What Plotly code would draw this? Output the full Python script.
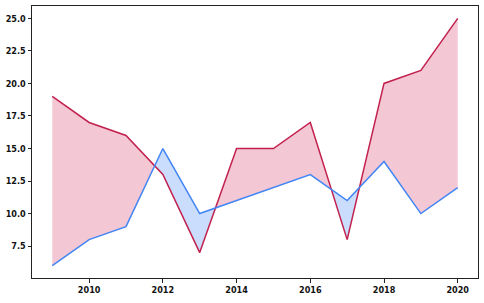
import plotly.graph_objects as go
import numpy as np

years = [2009, 2010, 2011, 2012, 2013, 2014, 2015, 2016, 2017, 2018, 2019, 2020]
series_a = [19, 17, 16, 13, 7, 15, 15, 17, 8, 20, 21, 25]
series_b = [6, 8, 9, 15, 10, 11, 12, 13, 11, 14, 10, 12]
y_ticks = [7.5, 10.0, 12.5, 15.0, 17.5, 20.0, 22.5, 25.0]
x_ticks = [2010, 2012, 2014, 2016, 2018, 2020]

RED = "#C2214E"
BLUE = "#4285F4"
RED_FILL = "rgba(210,40,90,0.26)"
BLUE_FILL = "rgba(66,133,244,0.28)"

fig = go.Figure()

x = np.array(years, float)
a = np.array(series_a, float)
b = np.array(series_b, float)
pts = [(x[0], a[0], b[0])]
for i in range(len(x) - 1):
    d0 = a[i] - b[i]
    d1 = a[i + 1] - b[i + 1]
    if d0 * d1 < 0:
        t = d0 / (d0 - d1)
        xc = x[i] + t * (x[i + 1] - x[i])
        yc = a[i] + t * (a[i + 1] - a[i])
        pts.append((xc, yc, yc))
    pts.append((x[i + 1], a[i + 1], b[i + 1]))

segs = []
cur = [pts[0]]
for p in pts[1:]:
    cur.append(p)
    if p[1] == p[2]:
        segs.append(cur)
        cur = [p]
if len(cur) > 1:
    segs.append(cur)

for seg in segs:
    xs = [p[0] for p in seg]
    ya = [p[1] for p in seg]
    yb = [p[2] for p in seg]
    diff = sum(pa - pb for pa, pb in zip(ya, yb))
    color = RED_FILL if diff > 0 else BLUE_FILL
    fig.add_trace(go.Scatter(
        x=xs + xs[::-1], y=ya + yb[::-1], fill="toself", fillcolor=color,
        mode="lines", line=dict(width=0), hoverinfo="skip", showlegend=False))

fig.add_trace(go.Scatter(x=years, y=series_a, mode="lines",
                         line=dict(color=RED, width=1.5), showlegend=False))
fig.add_trace(go.Scatter(x=years, y=series_b, mode="lines",
                         line=dict(color=BLUE, width=1.5), showlegend=False))

axis_common = dict(showgrid=False, zeroline=False, showline=True, linecolor="#222",
                   linewidth=1, mirror=True, ticks="outside", ticklen=3.5,
                   tickcolor="#222", tickwidth=1,
                   tickfont=dict(family="DejaVu Sans Condensed, Liberation Sans Narrow, sans-serif",
                                 size=9, color="#111", weight="bold"))

fig.update_layout(
    width=484, height=303,
    margin=dict(l=32, r=6, t=6, b=25),
    plot_bgcolor="white", paper_bgcolor="white",
    xaxis=dict(range=[2008.45, 2020.55], tickvals=x_ticks, **axis_common),
    yaxis=dict(range=[5.05, 25.95], tickvals=y_ticks, tickformat=".1f", **axis_common),
)

fig.write_html("out.html")
